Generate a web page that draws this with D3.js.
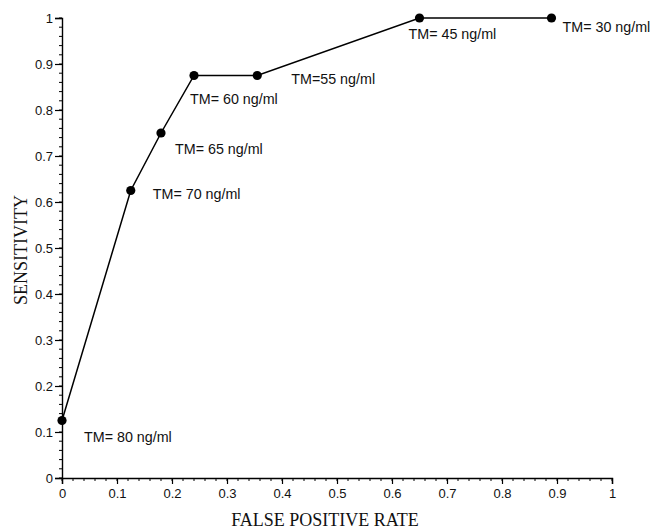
<!DOCTYPE html>
<html>
<head>
<meta charset="utf-8">
<script src="https://cdn.jsdelivr.net/npm/d3@7"></script>
<style>
  html, body { margin: 0; padding: 0; background: #fff; }
  svg { display: block; }
</style>
</head>
<body>
<svg id="chart" width="664" height="529"></svg>
<script>
// ---- data ----
const falsePositiveRate = [0, 0.125, 0.18, 0.24, 0.355, 0.65, 0.89];
const sensitivity       = [0.125, 0.625, 0.75, 0.875, 0.875, 1.0, 1.0];
const pointLabels = ["TM= 80 ng/ml", "TM= 70 ng/ml", "TM= 65 ng/ml", "TM= 60 ng/ml",
                     "TM=55 ng/ml", "TM= 45 ng/ml", "TM= 30 ng/ml"];
const xTickValues = [0, 0.1, 0.2, 0.3, 0.4, 0.5, 0.6, 0.7, 0.8, 0.9, 1];
const yTickValues = [0, 0.1, 0.2, 0.3, 0.4, 0.5, 0.6, 0.7, 0.8, 0.9, 1];
const xTickLabels = ["0", "0.1", "0.2", "0.3", "0.4", "0.5", "0.6", "0.7", "0.8", "0.9", "1"];
const yTickLabels = ["0", "0.1", "0.2", "0.3", "0.4", "0.5", "0.6", "0.7", "0.8", "0.9", "1"];
const xTitle = "FALSE POSITIVE RATE";
const yTitle = "SENSITIVITY";

// ---- drawing ----
const svg = d3.select("#chart");
const x = d3.scaleLinear().domain([0, 1]).range([62, 612]);
const y = d3.scaleLinear().domain([0, 1]).range([478, 18]);
const sans = "Liberation Sans, Arial, Helvetica, sans-serif";
const serif = "Liberation Serif, Times New Roman, serif";

const minor = d3.range(0, 1.0001, 0.02);

// x axis
const xAxis = svg.append("g").attr("transform", `translate(0,${y(0)})`)
  .call(d3.axisBottom(x).tickValues(xTickValues).tickSize(6).tickPadding(5)
        .tickFormat((d, i) => xTickLabels[i]));
xAxis.append("g").selectAll("line").data(minor).join("line")
  .attr("x1", d => x(d)).attr("x2", d => x(d)).attr("y1", 0).attr("y2", 3)
  .attr("stroke", "#000").attr("stroke-width", 1);

// y axis
const yAxis = svg.append("g").attr("transform", `translate(${x(0)},0)`)
  .call(d3.axisLeft(y).tickValues(yTickValues).tickSize(7).tickPadding(2)
        .tickFormat((d, i) => yTickLabels[i]));
yAxis.append("g").selectAll("line").data(minor).join("line")
  .attr("y1", d => y(d)).attr("y2", d => y(d)).attr("x1", 0).attr("x2", -3)
  .attr("stroke", "#000").attr("stroke-width", 1);

[xAxis, yAxis].forEach(g => {
  g.select(".domain").attr("stroke", "#000").attr("stroke-width", 1.4);
  g.selectAll(".tick line").attr("stroke", "#000").attr("stroke-width", 1.2);
  g.selectAll(".tick text").attr("font-family", sans).attr("font-size", 13).attr("fill", "#111");
});

// axis titles
svg.append("text").attr("x", 325).attr("y", 526).attr("text-anchor", "middle")
  .attr("font-family", serif).attr("font-size", 18).attr("fill", "#111").text(xTitle);
svg.append("text").attr("transform", "translate(27,250) rotate(-90)").attr("text-anchor", "middle")
  .attr("font-family", serif).attr("font-size", 18).attr("fill", "#111").text(yTitle);

// line + points
const pts = falsePositiveRate.map((d, i) => ({ fx: d, s: sensitivity[i], label: pointLabels[i] }));
svg.append("path").datum(pts)
  .attr("d", d3.line().x(d => x(d.fx)).y(d => y(d.s)))
  .attr("fill", "none").attr("stroke", "#000").attr("stroke-width", 1.5);
svg.append("g").selectAll("circle").data(pts).join("circle")
  .attr("cx", d => x(d.fx)).attr("cy", d => y(d.s)).attr("r", 4.6).attr("fill", "#000");

// annotation offsets relative to each point (dx, dy to text baseline-left)
const labelOffsets = [[22, 21], [22, 8], [14, 21], [-4, 28], [34, 8], [-11, 21], [11, 14]];
svg.append("g").selectAll("text").data(pts).join("text")
  .attr("x", (d, i) => x(d.fx) + labelOffsets[i][0])
  .attr("y", (d, i) => y(d.s) + labelOffsets[i][1])
  .attr("font-family", sans).attr("font-size", 14.3).attr("fill", "#111")
  .text(d => d.label);
</script>
</body>
</html>
